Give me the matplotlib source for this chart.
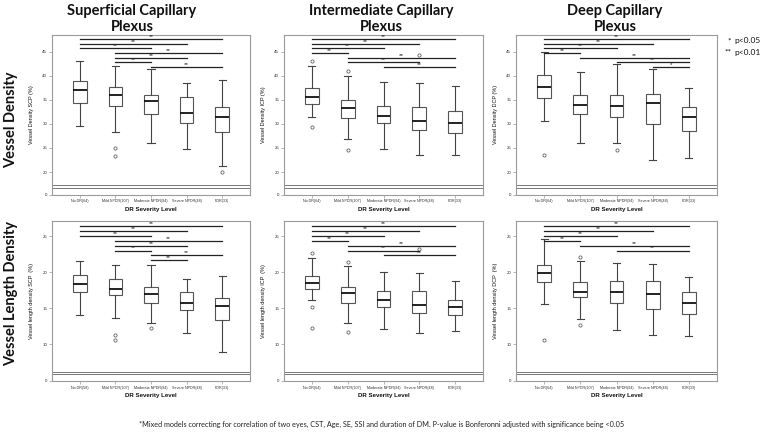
import matplotlib
matplotlib.use("Agg")
import matplotlib.pyplot as plt
import numpy as np

COLORS = {
    "bg": "#FFFFFF",
    "fg": "#111111",
    "box": "#555555",
    "whisker": "#444444",
    "frame": "#9A9A9A",
    "sig": "#222222",
}

W, H = 760, 443

# ---- data (five-number summaries: low whisker, Q1, median, Q3, high whisker) ----
categories = ["No DR(64)", "Mild NPDR(107)", "Moderate NPDR(94)", "Severe NPDR(48)", "PDR(33)"]
categories_scp_vld = ["No DR(58)", "Mild NPDR(107)", "Moderate NPDR(94)", "Severe NPDR(48)", "PDR(33)"]

scp_vd = [
    [29.5, 34.3, 37.0, 39.0, 43.0],
    [28.4, 33.8, 36.0, 37.7, 42.1],
    [26.1, 32.0, 34.7, 36.1, 41.4],
    [24.7, 30.1, 32.2, 35.5, 38.6],
    [21.3, 28.4, 31.5, 33.5, 39.1],
]
scp_vd_out = [[], [25.0, 23.4], [], [], [20.1]]
scp_vd_sig = [(0, 4, "**"), (0, 3, "**"), (0, 2, "**"), (1, 4, "**"), (1, 3, "**"), (1, 2, "**"), (2, 4, "**")]

icp_vd = [
    [31.4, 34.2, 35.7, 37.4, 42.0],
    [26.8, 31.3, 33.3, 35.0, 40.0],
    [24.7, 30.1, 31.6, 33.8, 38.8],
    [23.6, 28.8, 30.6, 33.6, 38.6],
    [23.6, 28.2, 30.1, 32.6, 37.9],
]
icp_vd_out = [[43.0, 29.3], [41.0, 24.6], [], [44.3], []]
icp_vd_sig = [(0, 4, "**"), (0, 3, "**"), (0, 2, "**"), (0, 1, "**"), (1, 4, "**"), (1, 3, "**"), (2, 4, "**")]

dcp_vd = [
    [30.6, 35.4, 37.7, 40.1, 45.0],
    [26.1, 32.1, 34.0, 36.1, 40.7],
    [26.1, 31.5, 33.8, 36.0, 42.5],
    [22.6, 29.9, 34.4, 36.3, 41.4],
    [22.9, 28.6, 31.4, 33.6, 37.4],
]
dcp_vd_out = [[23.6], [], [24.5], [], []]
dcp_vd_sig = [(0, 4, "**"), (0, 3, "**"), (0, 2, "**"), (0, 1, "**"), (1, 4, "**"), (2, 4, "**"), (3, 4, "*")]

scp_vld = [
    [14.0, 17.2, 18.4, 19.6, 21.6],
    [13.7, 16.8, 17.7, 19.0, 21.0],
    [12.9, 15.65, 16.9, 17.9, 21.0],
    [11.6, 14.7, 15.65, 17.3, 19.0],
    [8.9, 13.3, 15.3, 16.4, 19.4],
]
scp_vld_out = [[], [11.3, 10.55], [12.3], [], []]
scp_vld_sig = [(0, 4, "**"), (0, 3, "**"), (0, 2, "**"), (1, 4, "**"), (1, 3, "**"), (1, 2, "**"), (2, 4, "**"), (2, 3, "**")]

icp_vld = [
    [16.1, 17.7, 18.55, 19.5, 22.0],
    [12.9, 15.75, 17.1, 17.9, 20.9],
    [12.1, 15.2, 16.1, 17.4, 20.05],
    [11.6, 14.35, 15.4, 17.4, 19.9],
    [11.8, 14.0, 15.1, 16.2, 18.8],
]
icp_vld_out = [[22.7, 15.1, 12.2], [21.45, 11.7], [], [23.2], []]
icp_vld_sig = [(0, 4, "**"), (0, 3, "**"), (0, 2, "**"), (0, 1, "**"), (1, 4, "**"), (1, 3, "**"), (2, 4, "**")]

dcp_vld = [
    [15.6, 18.6, 19.9, 21.0, 24.6],
    [13.5, 16.5, 17.2, 18.6, 21.5],
    [12.0, 15.7, 17.2, 18.8, 21.3],
    [11.3, 14.9, 16.95, 18.8, 21.2],
    [11.2, 14.2, 15.7, 17.2, 19.3],
]
dcp_vld_out = [[10.6], [22.1, 12.7], [], [], []]
dcp_vld_sig = [(0, 4, "**"), (0, 3, "**"), (0, 2, "**"), (0, 1, "**"), (1, 4, "**"), (2, 4, "**")]

col_titles = ["Superficial Capillary\nPlexus", "Intermediate Capillary\nPlexus", "Deep Capillary\nPlexus"]
row_titles = ["Vessel Density", "Vessel Length Density"]
ylabels = [
    ["Vessel Density SCP (%)", "Vessel Density ICP (%)", "Vessel Density DCP (%)"],
    ["Vessel length density SCP  (%)", "Vessel length density ICP  (%)", "Vessel length density DCP  (%)"],
]
footnote = ("*Mixed models correcting for correlation of two eyes, CST, Age, SE, SSI and duration of DM. "
            "P-value is Bonferonni adjusted with significance being <0.05")

ROW_YTICKS = [[0, 20, 25, 30, 35, 40, 45], [0, 10, 15, 20, 25]]


def setup_matplotlib_style():
    plt.rcParams["font.family"] = ["Liberation Sans", "DejaVu Sans"]
    plt.rcParams["figure.facecolor"] = COLORS["bg"]
    plt.rcParams["axes.facecolor"] = COLORS["bg"]
    plt.rcParams["text.color"] = COLORS["fg"]
    plt.rcParams["axes.labelcolor"] = COLORS["fg"]
    plt.rcParams["xtick.color"] = COLORS["frame"]
    plt.rcParams["ytick.color"] = COLORS["frame"]
    plt.rcParams["xtick.labelcolor"] = "#333333"
    plt.rcParams["ytick.labelcolor"] = "#333333"


def broken_scale(brk, low):
    # compress 0..brk into 0..low, keep the rest linear
    def fwd(y):
        y = np.asarray(y, dtype=float)
        return np.where(y < brk, y * low / brk, y - brk + low)

    def inv(u):
        u = np.asarray(u, dtype=float)
        return np.where(u < low, u * brk / low, u + brk - low)

    return fwd, inv


def px_axes(fig, x0, x1, y0, y1):
    return fig.add_axes([x0 / W, 1 - y1 / H, (x1 - x0) / W, (y1 - y0) / H])


def draw_panel(ax, summary, outliers, sigs, labels, ylabel, brk, low, ytop, yticks, sig_top, sig_step):
    stats = []
    for (lo, q1, med, q3, hi), fl, lab in zip(summary, outliers, labels):
        stats.append(dict(whislo=lo, q1=q1, med=med, q3=q3, whishi=hi, fliers=fl, label=lab))
    ax.set_yscale("function", functions=broken_scale(brk, low))
    ax.bxp(
        stats, positions=range(1, 6), widths=0.38, capwidths=0.2, patch_artist=True,
        boxprops=dict(facecolor="white", edgecolor=COLORS["box"], linewidth=0.8),
        medianprops=dict(color="#111111", linewidth=1.3),
        whiskerprops=dict(color=COLORS["whisker"], linewidth=0.8),
        capprops=dict(color=COLORS["whisker"], linewidth=0.8),
        flierprops=dict(marker="o", markerfacecolor="none", markeredgecolor="#666666",
                        markersize=2.3, markeredgewidth=0.6),
    )
    for k, (i, j, lab) in enumerate(sigs):
        y = sig_top - sig_step * k
        ax.plot([i + 1, j + 1], [y, y], color=COLORS["sig"], linewidth=0.9, zorder=4)
        ax.text((i + j) / 2 + 1, y, lab, ha="center", va="bottom", fontsize=4.6, color=COLORS["sig"])

    ax.set_xlim(0.22, 5.78)
    ax.set_ylim(0, ytop)
    ax.set_yticks(yticks)
    ax.set_yticklabels([str(t) for t in yticks])
    ax.minorticks_off()
    ax.tick_params(labelsize=3.2, length=2, width=0.5, pad=1.5)
    ax.tick_params(axis="x", labelsize=2.7)
    for spine in ax.spines.values():
        spine.set_color(COLORS["frame"])
        spine.set_linewidth(0.8)
    # axis break: two thin lines across the plot
    for yb in (brk * 1.02, brk * 0.85):
        ax.axhline(yb, color="#777777", linewidth=0.7, zorder=1)
    ax.set_ylabel(ylabel, fontsize=4.0, labelpad=6)
    ax.set_xlabel("DR Severity Level", fontsize=4.4, fontweight="bold", labelpad=2.5)


setup_matplotlib_style()
fig = plt.figure(figsize=(W / 100, H / 100), dpi=100)

cols = [(52, 250), (284, 483), (516, 717)]
rows = [(35, 194.5), (221, 381)]
row_scale = [(17, 1.68, 48.5, 47.6, 0.95), (6, 1.11, 27.1, 26.4, 0.68)]

panels = [
    [(scp_vd, scp_vd_out, scp_vd_sig, categories),
     (icp_vd, icp_vd_out, icp_vd_sig, categories),
     (dcp_vd, dcp_vd_out, dcp_vd_sig, categories)],
    [(scp_vld, scp_vld_out, scp_vld_sig, categories_scp_vld),
     (icp_vld, icp_vld_out, icp_vld_sig, categories),
     (dcp_vld, dcp_vld_out, dcp_vld_sig, categories)],
]

for r, (y0, y1) in enumerate(rows):
    brk, low, ytop, sig_top, sig_step = row_scale[r]
    for c, (x0, x1) in enumerate(cols):
        summary, outs, sigs, labels = panels[r][c]
        ax = px_axes(fig, x0, x1, y0, y1)
        draw_panel(ax, summary, outs, sigs, labels, ylabels[r][c], brk, low, ytop,
                   ROW_YTICKS[r], sig_top, sig_step)

title_font = ["Lato", "DejaVu Sans"]
title_x = [132, 381, 615]
for c, xc in enumerate(title_x):
    fig.text(xc / W, 1 - 19 / H, col_titles[c], ha="center", va="center",
             fontsize=10.5, fontweight="bold", family=title_font, linespacing=1.25)

row_centers = [120, 293]
for r, yc in enumerate(row_centers):
    fig.text(11 / W, 1 - yc / H, row_titles[r], rotation=90, ha="center", va="center",
             fontsize=10.5, fontweight="bold", family=title_font)

# significance legend
fig.text(731 / W, 1 - 41 / H, "*", ha="right", va="center", fontsize=6, family=title_font)
fig.text(734 / W, 1 - 41 / H, "p<0.05", ha="left", va="center", fontsize=6, family=title_font)
fig.text(731 / W, 1 - 52 / H, "**", ha="right", va="center", fontsize=6, family=title_font)
fig.text(734 / W, 1 - 52 / H, "p<0.01", ha="left", va="center", fontsize=6, family=title_font)

fig.text(382 / W, 1 - 424 / H, footnote, ha="center", va="center", fontsize=5.2,
         family=title_font, color="#222222")

fig.savefig("out.png", dpi=100)
